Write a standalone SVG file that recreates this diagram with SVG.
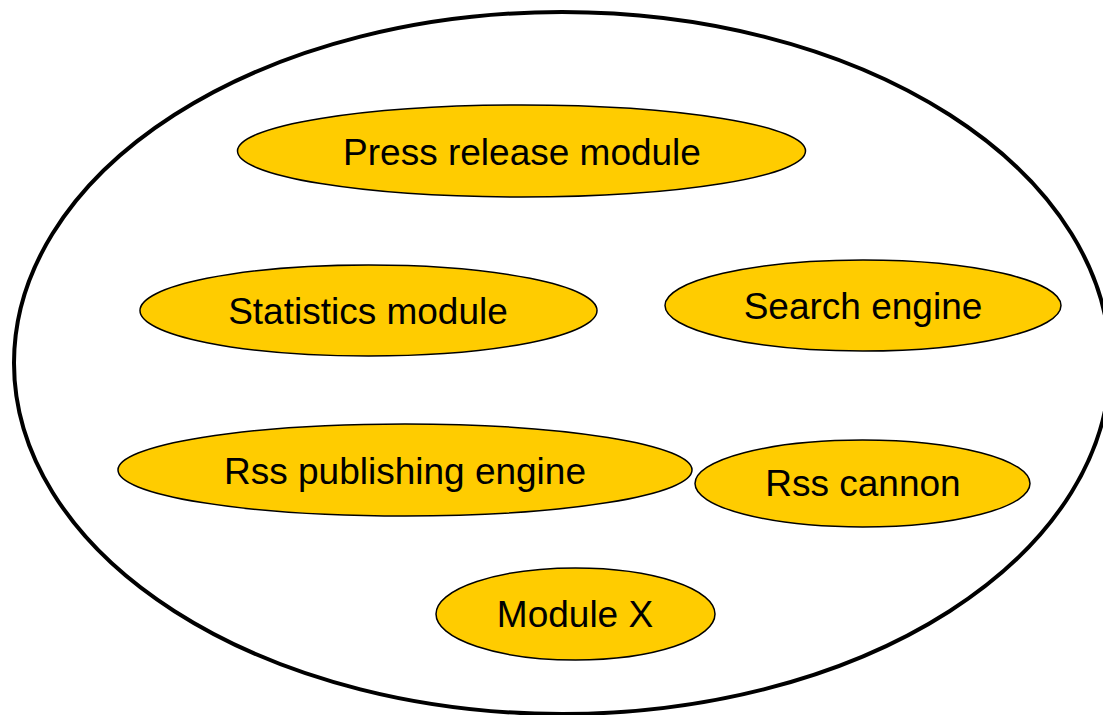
<svg xmlns="http://www.w3.org/2000/svg" width="1103" height="715" viewBox="0 0 1103 715">
<style>
.mod{fill:#FFCC00;stroke:#000;stroke-width:1.5}
.lbl{font-family:"Liberation Sans",Arial,sans-serif;font-size:37px;fill:#000;text-anchor:middle}
</style>
<rect width="1103" height="715" fill="#fff"/>
<g id="system">
<ellipse cx="562" cy="363" rx="548" ry="351" fill="none" stroke="#000" stroke-width="4"/>
</g>
<g id="press-release-module">
<ellipse class="mod" cx="521.5" cy="151" rx="284" ry="46"/>
<text class="lbl" x="522" y="165">Press release module</text>
</g>
<g id="statistics-module">
<ellipse class="mod" cx="368.5" cy="310.5" rx="228.5" ry="45.5"/>
<text class="lbl" x="368" y="324">Statistics module</text>
</g>
<g id="search-engine">
<ellipse class="mod" cx="863" cy="305.5" rx="198" ry="45.5"/>
<text class="lbl" x="863" y="319">Search engine</text>
</g>
<g id="rss-publishing-engine">
<ellipse class="mod" cx="405" cy="470" rx="287" ry="46"/>
<text class="lbl" x="405" y="484">Rss publishing engine</text>
</g>
<g id="rss-cannon">
<ellipse class="mod" cx="862.5" cy="483.5" rx="167.5" ry="43.5"/>
<text class="lbl" x="863" y="496">Rss cannon</text>
</g>
<g id="module-x">
<ellipse class="mod" cx="575.5" cy="614" rx="139.5" ry="46"/>
<text class="lbl" x="575" y="627">Module X</text>
</g>
<g id="connectors"/>
</svg>
